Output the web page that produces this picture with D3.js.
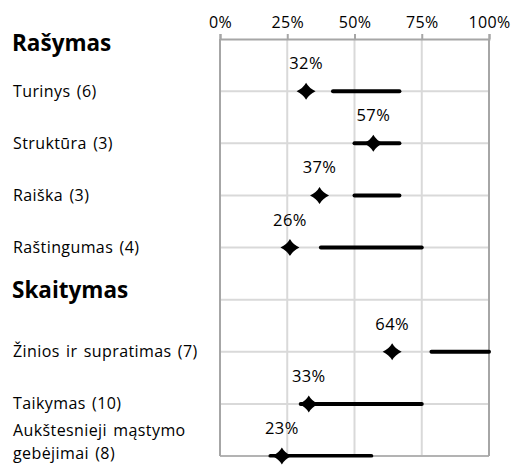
<!DOCTYPE html>
<html><head><meta charset="utf-8">
<script src="https://cdn.jsdelivr.net/npm/d3@7"></script>
<style>
html,body{margin:0;padding:0;background:#fff;}
svg{display:block;font-family:"Open Sans",sans-serif;}
</style></head>
<body><div id="chart"></div>
<script>
// ---- data ----
const rowLabels = ["Rašymas", "Turinys (6)", "Struktūra (3)", "Raiška (3)", "Raštingumas (4)",
                   "Skaitymas", "Žinios ir supratimas (7)", "Taikymas (10)", "Aukštesnieji mąstymo\ngebėjimai (8)"];
const isHeader = [true, false, false, false, false, true, false, false, false];
const meanValues = [null, 32, 57, 37, 26, null, 64, 33, 23];
const rangeLow  = [null, 42, 50, 50, 37.5, null, 78.6, 30, 18.75];
const rangeHigh = [null, 66.7, 66.7, 66.7, 75, null, 100, 75, 56.25];
const tickValues = [0, 25, 50, 75, 100];

// ---- layout ----
const W = 516, H = 465;
const x0 = 220, x1 = 489, yTop = 39, yBot = 456;

const svg = d3.select("#chart").append("svg").attr("width", W).attr("height", H);

const x = d3.scaleLinear().domain([0, 100]).range([x0, x1]);
const y = d3.scalePoint().domain(d3.range(rowLabels.length)).range([yTop, yBot]);

const grid = "#d9d9d9", frame = "#a6a6a6";

// vertical gridlines
svg.append("g").selectAll("line").data(tickValues.slice(1, -1)).join("line")
  .attr("x1", d => x(d)).attr("x2", d => x(d)).attr("y1", yTop).attr("y2", yBot)
  .attr("stroke", grid).attr("stroke-width", 2);
// horizontal gridlines
svg.append("g").selectAll("line").data(d3.range(1, rowLabels.length)).join("line")
  .attr("x1", x0).attr("x2", x1).attr("y1", d => y(d)).attr("y2", d => y(d))
  .attr("stroke", grid).attr("stroke-width", 2);

// frame: left, right, bottom
svg.append("line").attr("x1", x0).attr("x2", x0).attr("y1", yTop).attr("y2", yBot).attr("stroke", frame).attr("stroke-width", 2);
svg.append("line").attr("x1", x1).attr("x2", x1).attr("y1", yTop).attr("y2", yBot).attr("stroke", frame).attr("stroke-width", 2);
svg.append("line").attr("x1", x0).attr("x2", x1).attr("y1", yBot).attr("y2", yBot).attr("stroke", frame).attr("stroke-width", 1.5);

// top axis
const axis = d3.axisTop(x).tickValues(tickValues).tickFormat(d => d + "%").tickSize(5).tickPadding(6);
const gAx = svg.append("g").attr("transform", `translate(0,${yTop})`).call(axis);
gAx.select(".domain").attr("stroke", frame).attr("stroke-width", 2);
gAx.selectAll(".tick line").attr("stroke", frame).attr("stroke-width", 2);
gAx.selectAll(".tick text").attr("font-family", "Open Sans").attr("font-size", 16).attr("fill", "#000")
  .attr("letter-spacing", 0.3);

// clip for range lines
svg.append("clipPath").attr("id", "plotclip").append("rect")
  .attr("x", x0 - 2).attr("y", yTop).attr("width", x1 - x0 + 4).attr("height", yBot - yTop + 1.5);

const rows = d3.range(rowLabels.length).filter(i => !isHeader[i]);

svg.append("g").attr("clip-path", "url(#plotclip)").selectAll("line").data(rows).join("line")
  .attr("x1", i => x(rangeLow[i])).attr("x2", i => x(rangeHigh[i]))
  .attr("y1", i => y(i)).attr("y2", i => y(i))
  .attr("stroke", "#000").attr("stroke-width", 4).attr("stroke-linecap", "round");

// diamonds
const hw = 9.5, hh = 8.5;
svg.append("g").selectAll("path").data(rows).join("path")
  .attr("transform", i => `translate(${x(meanValues[i])},${y(i)})`)
  .attr("d", `M0,${-hh} Q3,-3 ${hw},0 Q3,3 0,${hh} Q-3,3 ${-hw},0 Q-3,-3 0,${-hh}Z`)
  .attr("fill", "#000");

// value labels
svg.append("g").selectAll("text").data(rows).join("text")
  .attr("x", i => x(meanValues[i])).attr("y", i => y(i) - 22)
  .attr("text-anchor", "middle").attr("font-size", 16.5).attr("fill", "#000").attr("letter-spacing", 0.4)
  .text(i => meanValues[i] + "%");

// category labels
const headerBaseline = {0: 51, 5: 298};
const gl = svg.append("g");
const lab = (t) => t.attr("x", 13).attr("font-size", 16).attr("fill", "#000")
  .attr("letter-spacing", 0.4).attr("word-spacing", 1.8);
d3.range(rowLabels.length).forEach(i => {
  if (isHeader[i]) {
    gl.append("text").attr("x", 12).attr("y", headerBaseline[i])
      .attr("font-size", 22.5).attr("font-weight", "bold").attr("fill", "#000").text(rowLabels[i]);
  } else {
    const lines = rowLabels[i].split("\n");
    if (lines.length === 1) {
      lab(gl.append("text")).attr("y", y(i) + 5.5).text(lines[0]);
    } else {
      lab(gl.append("text")).attr("y", y(i) - 20).text(lines[0]);
      lab(gl.append("text")).attr("y", y(i) + 3).text(lines[1]);
    }
  }
});
</script></body></html>
